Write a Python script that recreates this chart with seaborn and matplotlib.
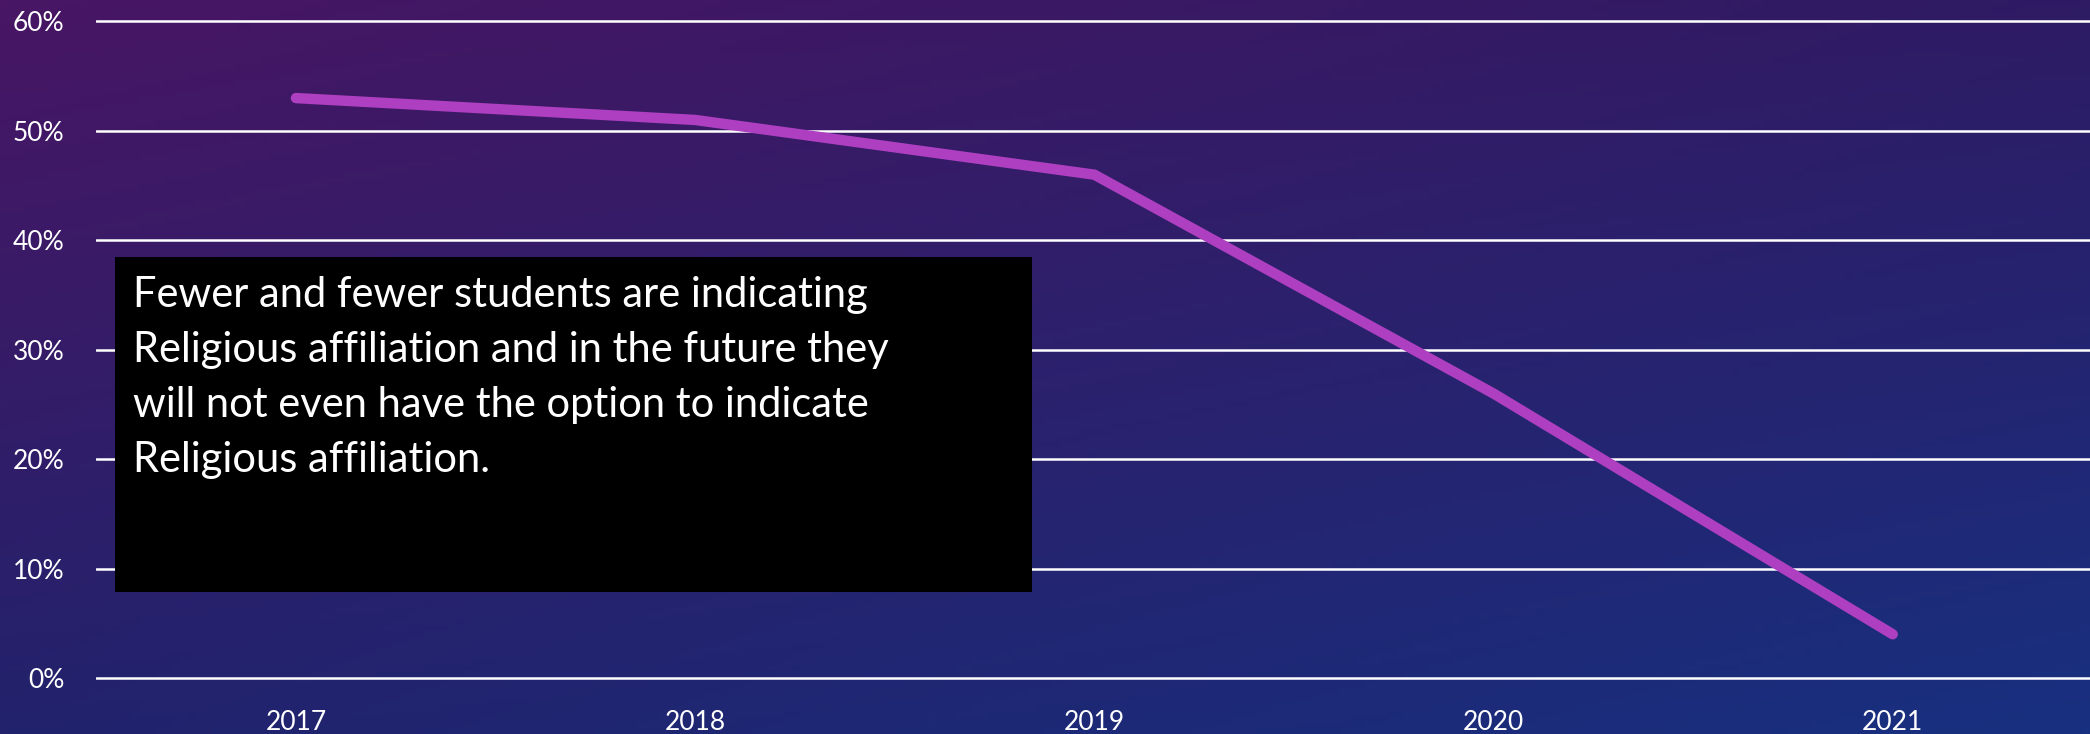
import numpy as np
import pandas as pd
import matplotlib
matplotlib.use("Agg")
import matplotlib.pyplot as plt
from matplotlib.patches import Rectangle
from matplotlib.ticker import FuncFormatter
import seaborn as sns

# data
years = ["2017", "2018", "2019", "2020", "2021"]
religious_pct = [53, 51, 46, 26, 4]
y_ticks = [0, 10, 20, 30, 40, 50, 60]
note = ("Fewer and fewer students are indicating\n"
        "Religious affiliation and in the future they\n"
        "will not even have the option to indicate\n"
        "Religious affiliation.")

df = pd.DataFrame({"year": years, "pct": religious_pct})

sns.set_theme(style="white")
plt.rcParams["font.family"] = ["Lato", "DejaVu Sans"]

fig = plt.figure(figsize=(20.9, 7.34), dpi=100)

# space-like background gradient (purple top-left -> blue bottom-right)
bg = fig.add_axes([0, 0, 1, 1], zorder=-1)
bg.set_axis_off()
tl = np.array([0x48, 0x16, 0x64]) / 255
tr = np.array([0x2E, 0x1B, 0x64]) / 255
bl = np.array([0x22, 0x22, 0x6C]) / 255
br = np.array([0x18, 0x30, 0x80]) / 255
u = np.linspace(0, 1, 256)[None, :, None]
v = np.linspace(0, 1, 128)[:, None, None]
img = (1 - v) * ((1 - u) * tl + u * tr) + v * ((1 - u) * bl + u * br)
bg.imshow(img, aspect="auto", extent=[0, 1, 0, 1], origin="upper")

ax = fig.add_axes([0.0461, 0.0688, 0.955, 0.9094])
ax.set_facecolor("none")

sns.lineplot(data=df, x="year", y="pct", ax=ax, color="#AE3FC1",
             linewidth=7.5, solid_capstyle="round", solid_joinstyle="miter")

ax.set_xlim(-0.5, 4.5)
ax.set_ylim(-0.5, 60.5)
ax.set_yticks(y_ticks)
ax.yaxis.set_major_formatter(FuncFormatter(lambda v, p: f"{v:.0f}%"))
ax.set_xlabel("")
ax.set_ylabel("")
ax.grid(axis="y", color="white", linewidth=1.8)
ax.grid(axis="x", visible=False)
for s in ax.spines.values():
    s.set_visible(False)
ax.tick_params(axis="y", length=0, pad=23, labelsize=19, labelcolor="white")
ax.tick_params(axis="x", length=0, pad=19, labelsize=19, labelcolor="white")

# black annotation box
fig.patches.append(Rectangle((0.0548, 0.1935), 0.439, 0.4564,
                             transform=fig.transFigure, facecolor="black",
                             edgecolor="none", zorder=2))
fig.text(0.0636, 0.624, note, color="white", fontsize=30, va="top",
         ha="left", linespacing=1.55, zorder=3)

fig.savefig("out.png", dpi=100)
